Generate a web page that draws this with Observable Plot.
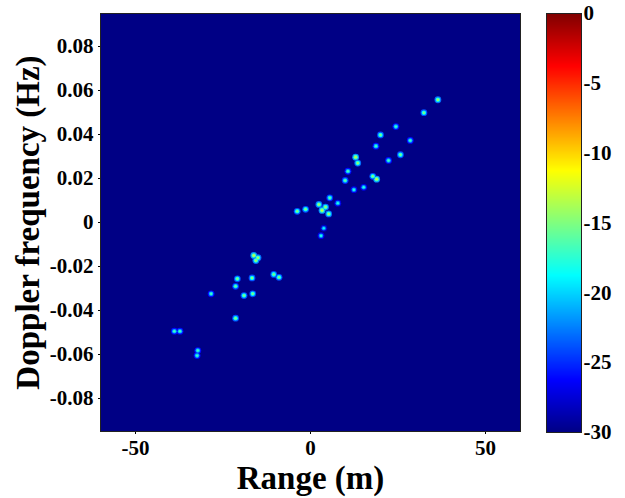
<!DOCTYPE html>
<html><head><meta charset="utf-8">
<script src="https://cdn.jsdelivr.net/npm/d3@7"></script>
<script src="https://cdn.jsdelivr.net/npm/@observablehq/plot@0.6"></script>
<style>
body{margin:0;background:#fff;}
#wrap{position:relative;width:625px;height:498px;}
#main{position:absolute;left:0;top:0;}
#cbar{position:absolute;left:530px;top:0;}
</style></head><body><div id="wrap"><div id="main"></div><div id="cbar"></div></div>
<script>
// Target returns: range (m), Doppler frequency (Hz), level (dB)
const rangeM  = [36.4, 32.4, 24.4, 20.0, 28.5, 18.7, 12.9, 13.5, 25.7, 22.3, 10.7, 18.9, 17.8, 9.9, 15.2, 12.4, 5.5, 7.8, 2.4, 4.3, 3.3, 5.2, -1.4, -3.8, 3.8, 3.0, -16.2, -15.0, -15.6, -10.5, -9.0, -20.9, -16.7, -21.4, -19.0, -16.5, -28.4, -21.4, -38.9, -37.3, -32.2, -32.4];
const doppler = [0.0558, 0.0499, 0.0436, 0.0398, 0.0373, 0.0347, 0.0297, 0.0270, 0.0308, 0.0282, 0.0233, 0.0197, 0.0210, 0.0191, 0.0160, 0.0149, 0.0112, 0.0088, 0.0082, 0.0070, 0.0055, 0.0039, 0.0060, 0.0051, -0.0026, -0.0060, -0.0150, -0.0160, -0.0173, -0.0236, -0.0249, -0.0256, -0.0252, -0.0290, -0.0332, -0.0324, -0.0324, -0.0435, -0.0494, -0.0494, -0.0582, -0.0605];
const levelDb = [-14, -15, -17, -15, -17, -17, -13, -14, -15, -17, -17, -13, -15, -16, -18, -18, -16, -18, -14, -14, -13, -14, -15, -15, -19, -18, -13, -14, -14, -15, -15, -15, -15, -16, -15, -15, -17, -15, -17, -17, -17, -17];

const xTicks = [-50, 0, 50];
const yTicks = [-0.08, -0.06, -0.04, -0.02, 0, 0.02, 0.04, 0.06, 0.08];
const cTicks = [-30, -25, -20, -15, -10, -5, 0];

const jetStops = [-30, -26.25, -18.75, -11.25, -3.75, 0];
const jetColors = ["#000085", "#0000ff", "#00ffff", "#ffff00", "#ff0000", "#800000"];

const colorScale = {type: "linear", domain: jetStops, range: jetColors, interpolate: "rgb", clamp: true};
const font = {fontFamily: "'Liberation Serif', 'Times New Roman', serif", fontWeight: "bold", color: "#000", background: "transparent"};

const pts = rangeM.map((x, i) => ({x, y: doppler[i], v: levelDb[i]}));

const main = Plot.plot({
  width: 540, height: 498,
  marginLeft: 100, marginRight: 20, marginTop: 13, marginBottom: 67,
  style: font,
  x: {domain: [-60, 60], label: null},
  y: {domain: [-0.095, 0.095], label: null},
  color: colorScale,
  marks: [
    Plot.frame({fill: jetColors[0]}),
    Plot.dot(pts, {x: "x", y: "y", r: 3.4, fill: d => d.v - 9}),
    Plot.dot(pts, {x: "x", y: "y", r: 2.3, fill: d => d.v - 4}),
    Plot.dot(pts, {x: "x", y: "y", r: 1.2, fill: d => d.v}),
    Plot.axisX({ticks: xTicks, tickSize: 3, tickPadding: 6, fontSize: 21, tickFormat: d => String(d), label: null}),
    Plot.axisY({ticks: yTicks, tickSize: 2, tickPadding: 5, fontSize: 21, tickFormat: d => d === 0 ? "0" : d.toFixed(2), label: null}),
    Plot.frame({stroke: "#222"}),
    Plot.text(["Range (m)"], {frameAnchor: "bottom", dy: 47, lineAnchor: "middle", fontSize: 33, fontWeight: "bold", fill: "#000"}),
    Plot.text(["Doppler frequency (Hz)"], {frameAnchor: "left", dx: -72, rotate: -90, textAnchor: "middle", lineAnchor: "middle", fontSize: 33, fontWeight: "bold", fill: "#000"})
  ]
});
document.getElementById("main").appendChild(main);

const cbar = Plot.plot({
  width: 95, height: 498,
  marginLeft: 16, marginRight: 44, marginTop: 13, marginBottom: 66,
  style: font,
  x: {domain: [0, 1], axis: null},
  y: {domain: [-30, 0], label: null, axis: null},
  color: colorScale,
  marks: [
    Plot.raster({fill: (x, y) => y, x1: 0, x2: 1, y1: -30, y2: 0, width: 1, height: 300}),
    Plot.axisY({anchor: "right", ticks: cTicks, tickSize: 0, tickPadding: 2, fontSize: 21, tickFormat: d => String(d), label: null}),
    Plot.frame({stroke: "#222"})
  ]
});
document.getElementById("cbar").appendChild(cbar);
</script>
</body></html>
